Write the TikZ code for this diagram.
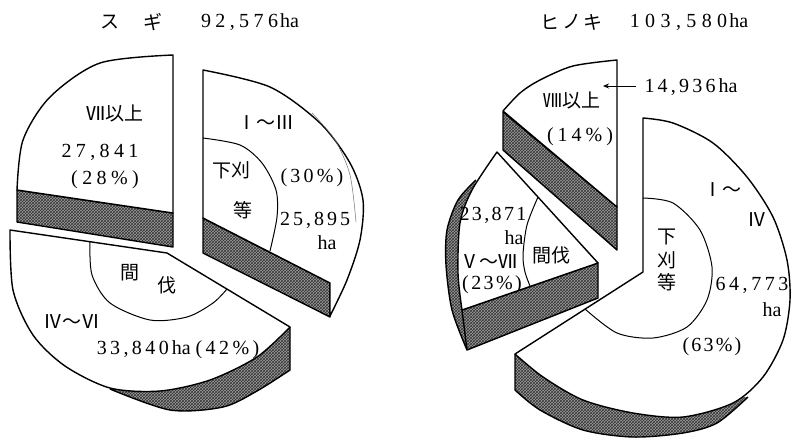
\documentclass[tikz,border=0pt]{standalone}
\usepackage{fontspec}
\setmainfont{Liberation Serif}
\newfontfamily\jpf{Noto Sans CJK JP}
\usetikzlibrary{arrows.meta,patterns}
\tikzset{
  topface/.style={fill=white, draw=black, line width=1.4pt, line join=round},
  hatch/.style={preaction={fill=black!38}, pattern=crosshatch, pattern color=black!80},
  cutband/.style={hatch, draw=black, line width=1.4pt, line join=round},
  cutfill/.style={hatch},
  rimline/.style={draw=black, line width=1.4pt, line join=round},
  thinrim/.style={draw=black!55, line width=0.5pt},
  innerarc/.style={draw=black, line width=1pt},
  jplbl/.style={inner sep=0pt, font=\jpf\fontsize{19}{19}\selectfont},
  numlbl/.style={inner sep=0pt, font=\fontsize{20}{20}\selectfont},
  pointer/.style={-{Stealth[length=6pt,width=5pt]}, line width=0.9pt},
}
\newcommand\ls[2]{{\addfontfeatures{LetterSpace=#1}#2}}
\begin{document}
\begin{tikzpicture}[x=1pt,y=-1pt]
\useasboundingbox (0,0) rectangle (793,440);
\fill[white] (0,0) rectangle (793,440);

% ---------------- left pie (sugi) ----------------
% sector VII+
\filldraw[cutband] (17,190) -- (173,213) -- (173,247) -- (17,222) -- cycle;
\filldraw[topface] (173,213) -- plot[smooth] coordinates {(17,190) (23,140) (50,97) (100,63) (173,55)} -- cycle;
% sector I-III
\filldraw[cutband] (203,218) -- (330,283) -- (330,317) -- (203,253) -- cycle;
\filldraw[topface] (330,283) -- (203,218) -- plot[smooth] coordinates {(203,70) (270,87) (320,123) (350,163) (363,200) (360,240) (347,280) (330,316)} -- cycle;
\draw[thinrim] plot[smooth] coordinates {(312,113) (335,140) (350,175) (356,222)};
\draw[innerarc] plot[smooth] coordinates {(203,138) (240,145) (262,163) (276,190) (277,217) (270,251)};
% sector IV-VI
\fill[cutfill] plot[smooth] coordinates {(110,389) (170,410) (223,407) (257,391) (290,370)} -- (290,327) -- (200,350) -- cycle;
\draw[rimline] plot[smooth] coordinates {(110,389) (170,410) (223,407) (257,391) (290,370)} -- (290,327);
\filldraw[topface] (290,327) -- (167,253) -- plot[smooth] coordinates {(10,230) (13,290) (33,335) (65,366) (110,388) (160,391) (210,380) (257,357) (290,327)} -- cycle;
\draw[innerarc] plot[smooth] coordinates {(90,242) (92,275) (110,303) (150,320) (187,317) (213,303) (227,289)};

% labels left
\node[jplbl] (tS1) at (110,22) {ス};
\node[jplbl] (tS2) at (153,22) {ギ};
\node[numlbl] (tS3) at (250,22) {\ls{22}{92,576}\hspace{2pt}ha};
\node[jplbl] (lA1) at (115,113) {Ⅶ以上};
\node[numlbl] (lA2) at (100,152) {\ls{22}{27,841}};
\node[numlbl] (lA3) at (105,180) {\ls{22}{(28\%)}};
\node[jplbl] (lB1) at (266,123) {Ⅰ～Ⅲ};
\node[jplbl] (lB2) at (231,170) {下刈};
\node[jplbl] (lB3) at (243,210) {等};
\node[numlbl] (lB4) at (312,178) {\ls{16}{(30\%)}};
\node[numlbl] (lB5) at (315,220) {\ls{15}{25,895}};
\node[numlbl] (lB6) at (327,243) {ha};
\node[jplbl] (lC1) at (130,273) {間};
\node[jplbl] (lC2) at (167,285) {伐};
\node[jplbl] (lC3) at (72,322) {Ⅳ～Ⅵ};
\node[numlbl] (lC4) at (178,350) {\ls{17}{33,840}\hspace{3pt}ha\hspace{5pt}\ls{17}{(42\%)}};

% ---------------- right pie (hinoki) ----------------
% sector VIII+
\filldraw[cutband] (503,112) -- (617,207) -- (617,250) -- (503,150) -- cycle;
\filldraw[topface] (617,207) -- plot[smooth] coordinates {(617,60) (573,66) (540,80) (520,93) (503,111)} -- cycle;
% sector V-VII
\fill[cutfill] plot[smooth] coordinates {(476,180) (458,200) (447,230) (446,265) (452,310) (467,350)} -- (462,310) -- (470,220) -- cycle;
\draw[rimline] plot[smooth] coordinates {(476,180) (458,200) (447,230) (446,265) (452,310) (467,350)};
\filldraw[cutband] (462,310) -- (598,263) -- (598,298) -- (467,350) -- cycle;
\filldraw[topface] (598,263) -- plot[smooth] coordinates {(497,152) (472,190) (460,223) (458,273) (462,310)} -- cycle;
\draw[innerarc] plot[smooth] coordinates {(538,197) (527,225) (523,255) (525,272) (530,286)};
% sector I-IV
\fill[cutfill] (515,354) -- plot[smooth] coordinates {(515,390) (540,410) (583,430) (633,437) (683,433) (717,423) (748,397)} -- (640,405) -- cycle;
\draw[rimline] (515,354) -- plot[smooth] coordinates {(515,390) (540,410) (583,430) (633,437) (683,433) (717,423) (748,397)};
\filldraw[topface] (643,272) -- plot[smooth] coordinates {(643,118) (673,123) (713,143) (747,177) (773,217) (787,260) (790,300) (783,340) (763,377) (733,403) (683,417) (633,413) (583,400) (543,377) (515,354)} -- cycle;
\draw[innerarc] plot[smooth] coordinates {(643,198) (673,203) (700,230) (712,267) (707,300) (687,327) (653,338) (617,333) (585,309)};

% labels right
\node[jplbl] (tH1) at (550,22) {ヒ};
\node[jplbl] (tH2) at (572,22) {ノ};
\node[jplbl] (tH3) at (593,22) {キ};
\node[numlbl] (tH4) at (689,22) {\ls{27}{103,580}\hspace{2pt}ha};
\node[jplbl] (lD1) at (572,100) {Ⅷ以上};
\node[numlbl] (lD2) at (580,137) {\ls{20}{(14\%)}};
\node[numlbl] (lD3) at (691,87) {\ls{16}{14,936}\hspace{3pt}ha};
\coordinate (arrTip) at (603,86);
\draw[pointer, shorten <=8pt] (lD3.west |- arrTip) -- (arrTip);
\node[numlbl] (lE1) at (493,215) {\ls{12}{23,871}};
\node[numlbl] (lE2) at (514,238) {ha};
\node[jplbl] (lE3) at (489,262) {Ⅴ～Ⅶ};
\node[numlbl] (lE4) at (492,285) {\ls{12}{(23\%)}};
\node[jplbl] (lE5) at (551,255) {間伐};
\node[jplbl] (lF1) at (722,190) {Ⅰ～};
\node[jplbl] (lF2) at (757,220) {Ⅳ};
\node[jplbl] (lF3) at (667,237) {下};
\node[jplbl] (lF4) at (667,260) {刈};
\node[jplbl] (lF5) at (667,282) {等};
\node[numlbl] (lF6) at (752,285) {\ls{18}{64,773}};
\node[numlbl] (lF7) at (772,310) {ha};
\node[numlbl] (lF8) at (712,347) {\ls{11}{(63\%)}};
\end{tikzpicture}
\end{document}
